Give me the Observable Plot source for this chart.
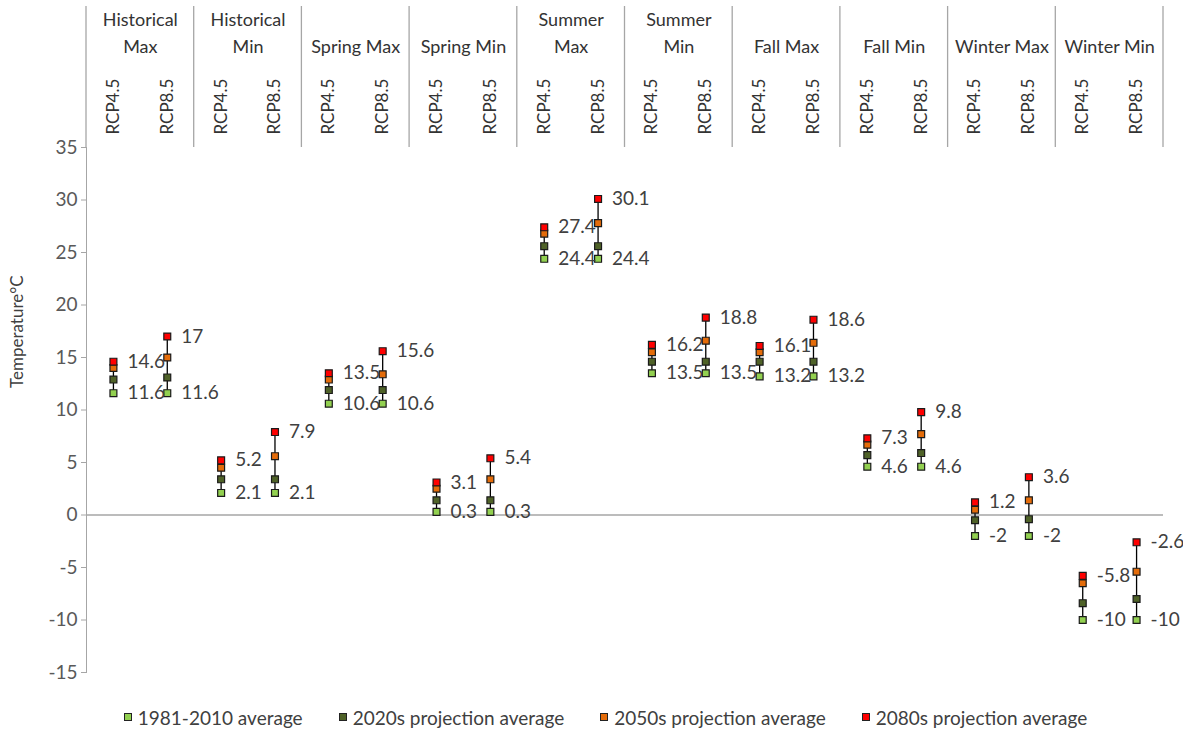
<!DOCTYPE html>
<html>
<head>
<meta charset="utf-8">
<script src="https://cdn.jsdelivr.net/npm/d3@7"></script>
<script src="https://cdn.jsdelivr.net/npm/@observablehq/plot@0.6"></script>
<style>
  html, body { margin: 0; padding: 0; background: #fff; }
  #chart { width: 1183px; }
  .legend { display: flex; justify-content: center; align-items: center; gap: 36px;
            font-family: Lato, "Noto Sans", sans-serif; font-size: 19px; color: #404040;
            height: 34px; margin-left: 28px; }
  .legend span.item { display: inline-flex; align-items: center; gap: 6px; }
  .legend span.sw { width: 6px; height: 6px; border: 1px solid #222; display: inline-block; }
</style>
</head>
<body>
<div id="chart"></div>
<script>
const groups = ["Historical Max","Historical Min","Spring Max","Spring Min","Summer Max","Summer Min","Fall Max","Fall Min","Winter Max","Winter Min"];
const groupLabels = ["Historical\nMax","Historical\nMin","Spring Max","Spring Min","Summer\nMax","Summer\nMin","Fall Max","Fall Min","Winter Max","Winter Min"];
const scenarios = ["RCP4.5","RCP8.5"];
const seriesNames = ["1981-2010 average","2020s projection average","2050s projection average","2080s projection average"];
const seriesColors = ["#92D050","#4F6228","#E46C0A","#FF0000"];
// values in order: group x scenario (RCP4.5, RCP8.5)
const avg1981  = [11.6,11.6, 2.1,2.1, 10.6,10.6, 0.3,0.3, 24.4,24.4, 13.5,13.5, 13.2,13.2, 4.6,4.6, -2,-2, -10,-10];
const proj2020 = [12.9,13.1, 3.4,3.4, 11.9,11.9, 1.4,1.4, 25.6,25.6, 14.6,14.6, 14.6,14.6, 5.7,5.9, -0.5,-0.4, -8.4,-8.0];
const proj2050 = [14.0,15.0, 4.5,5.6, 12.9,13.4, 2.5,3.4, 26.8,27.8, 15.5,16.6, 15.5,16.4, 6.7,7.7, 0.5,1.4, -6.5,-5.4];
const proj2080 = [14.6,17, 5.2,7.9, 13.5,15.6, 3.1,5.4, 27.4,30.1, 16.2,18.8, 16.1,18.6, 7.3,9.8, 1.2,3.6, -5.8,-2.6];
const yTicks = [-15,-10,-5,0,5,10,15,20,25,30,35];
const yLabel = "Temperature°C";

const seriesValues = [avg1981, proj2020, proj2050, proj2080];
const keys = [];
groups.forEach(g => scenarios.forEach(s => keys.push(g + "|" + s)));
const cats = keys.map((k, i) => ({key: k, lo: avg1981[i], hi: proj2080[i]}));
const points = [];
seriesNames.forEach((name, si) => keys.forEach((k, i) => points.push({key: k, series: name, value: seriesValues[si][i]})));
const labelPts = points.filter(d => d.series === seriesNames[0] || d.series === seriesNames[3]);
const groupRows = groups.map((g, i) => ({key: g + "|" + scenarios[0], label: groupLabels[i]}));

const font = "Lato, 'Noto Sans', sans-serif";
const W = 1183, H = 700, mL = 86, mR = 20, mT = 147, mB = 28;
const step = (W - mL - mR) / keys.length;

const chart = Plot.plot({
  width: W, height: H,
  marginLeft: mL, marginRight: mR, marginTop: mT, marginBottom: mB,
  style: {fontFamily: font, background: "#fff", overflow: "visible"},
  x: {type: "band", domain: keys, padding: 0, round: false},
  y: {domain: [-15, 35]},
  color: {domain: seriesNames, range: seriesColors},
  marks: [
    Plot.frame({anchor: "left", stroke: "#a6a6a6"}),
    Plot.ruleY([0], {stroke: "#a6a6a6", strokeWidth: 1.3}),
    Plot.axisY({ticks: yTicks, tickSize: 5, tickPadding: 4, fontSize: 19, color: "#595959", stroke: "#a6a6a6", label: null, tickFormat: d => String(d)}),
    Plot.axisX({anchor: "top", tickSize: 0, tickPadding: 13, tickRotate: -90, fontSize: 17, color: "#333", label: null, tickFormat: d => d.split("|")[1]}),
    Plot.text(groupRows, {x: "key", text: "label", frameAnchor: "top", dx: step / 2, dy: -95, lineAnchor: "bottom", lineHeight: 1.45, fontSize: 18, fill: "#333"}),
    Plot.text([yLabel], {frameAnchor: "left", dx: -69, dy: -22, rotate: -90, fontSize: 17, fill: "#404040"}),
    Plot.ruleX(cats, {x: "key", y1: "lo", y2: "hi", stroke: "#000", strokeWidth: 1.3}),
    Plot.dot(points, {x: "key", y: "value", fill: "series", symbol: "square", r: 3.9, stroke: "#1a1a1a", strokeWidth: 1.2}),
    Plot.text(labelPts, {x: "key", y: "value", text: d => String(d.value), dx: 14, textAnchor: "start", fontSize: 19, fill: "#404040"})
  ]
});

// header separators drawn from the x scale (band starts)
const xs = chart.scale("x");
const bw = xs.bandwidth;
const bounds = groups.map(g => xs.apply(g + "|" + scenarios[0]));
bounds.push(xs.apply(keys[keys.length - 1]) + bw);
const sel = d3.select(chart);
sel.append("g").selectAll("line").data(bounds).join("line")
  .attr("x1", d => d).attr("x2", d => d)
  .attr("y1", 6).attr("y2", mT)
  .attr("stroke", "#a6a6a6").attr("stroke-width", 1.3);

document.getElementById("chart").appendChild(chart);

const legend = d3.select("body").append("div").attr("class", "legend");
seriesNames.forEach((n, i) => {
  const it = legend.append("span").attr("class", "item");
  it.append("span").attr("class", "sw").style("background", seriesColors[i]);
  it.append("span").text(n);
});
</script>
</body>
</html>
